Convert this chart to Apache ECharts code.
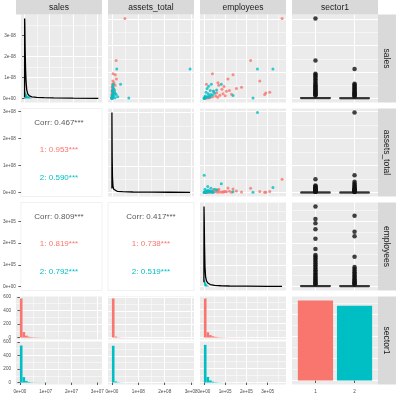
<!DOCTYPE html>
<html>
<head>
<meta charset="utf-8">
<script src="https://cdn.jsdelivr.net/npm/echarts@6/dist/echarts.min.js"></script>
<style>
    html, body { margin: 0; padding: 0; background: #fff; }
    #chart_main { width: 396px; height: 396px; }
</style>
</head>
<body>
<div id="chart_main"></div>
<script>
var variables = ['sales', 'assets_total', 'employees', 'sector1'];
var groupColors = ['#F8766D', '#00BFC4'];

// firms, one row each: [sales, assets_total, employees]
var firmsSector1 = [
    [3.03e7, 4.9e7, 3.68e5], [1.44e7, 1.6e7, 2.2e5], [9.4e6, 4.5e6, 4.0e4], [9.0e6, 1.3e7, 1.37e5],
    [7.4e6, 1.7e7, 1.13e5], [6.6e6, 4.0e6, 2.63e5], [6.0e6, 8.0e6, 6.6e4], [5.4e6, 2.5e6, 1.2e4],
    [4.3e6, 1.5e6, 1.77e5], [3.8e6, 6.0e6, 1.53e5], [2.75e6, 3.0e6, 1.06e5], [2.1e6, 1.2e6, 2.91e5],
    [2.4e6, 3.6e6, 3.1e5], [1.5e6, 1.0e6, 2.86e5], [1.8e6, 2.2e6, 9.0e4], [1.2e6, 1.5e6, 7.5e4],
    [9.0e5, 3.0e6, 5.5e4], [6.0e5, 8.0e5, 4.0e4], [4.0e5, 5.0e5, 2.5e4], [2.5e5, 3.0e5, 1.5e4],
    [1.5e5, 2.0e5, 8.0e3], [8.0e4, 1.0e5, 4.0e3], [3.0e6, 5.0e6, 1.2e5], [2.2e6, 7.0e6, 6.0e4],
    [1.0e6, 4.0e6, 1.0e5], [7.0e5, 2.0e6, 3.0e4], [5.0e5, 1.0e6, 6.5e4], [3.0e5, 6.0e5, 1.2e4],
    [3.5e6, 2.0e6, 8.5e4], [1.6e6, 9.0e5, 1.3e5], [2.6e6, 1.0e7, 4.5e4], [4.5e6, 3.0e6, 9.5e4],
    [5.0e6, 1.2e7, 7.0e4], [2.0e5, 1.5e6, 2.0e4]
];
var firmsSector2 = [
    [1.12e7, 2.96e8, 2.52e5], [1.12e7, 1.84e7, 3.25e5], [5.4e6, 3.26e7, 8.2e4], [2.0e5, 6.4e7, 1.5e3],
    [1.6e5, 1.0e6, 2.31e5], [5.4e6, 5.0e6, 3.5e4], [1.1e6, 3.0e6, 1.37e5], [4.6e6, 3.0e6, 2.2e4],
    [3.8e6, 6.0e6, 1.5e4], [3.0e6, 2.0e6, 3.0e4], [2.4e6, 4.5e6, 1.0e4], [1.8e6, 8.0e6, 2.0e4],
    [1.3e6, 1.2e6, 4.0e4], [9.0e5, 2.5e6, 6.0e3], [6.0e5, 5.0e5, 1.2e4], [4.0e5, 1.5e6, 3.0e3],
    [2.5e5, 3.0e5, 8.0e3], [1.2e5, 1.5e5, 2.0e3], [6.0e4, 5.0e5, 1.0e3], [2.0e6, 1.2e7, 5.0e4],
    [1.0e6, 6.0e6, 2.5e4], [3.2e6, 1.0e7, 6.0e4], [7.0e5, 2.2e7, 1.8e4], [1.5e6, 1.6e7, 3.3e4],
    [2.8e6, 9.0e5, 4.5e4], [5.0e5, 3.5e6, 2.8e4], [3.0e5, 1.2e7, 5.0e3]
];

// correlation text: overall, sector 1, sector 2
var corrSalesAssets = ['0.467***', '0.953***', '0.590***'];
var corrSalesEmployees = ['0.809***', '0.819***', '0.792***'];
var corrAssetsEmployees = ['0.417***', '0.738***', '0.519***'];

// diagonal densities
var salesDensX = [0, 3e4, 8e4, 1.5e5, 2.5e5, 4e5, 6e5, 9e5, 1.3e6, 2e6, 3e6, 5e6, 8e6, 1.2e7, 2e7, 3.03e7];
var salesDensY = [0.05, 3.8, 3.6, 3.0, 2.2, 1.4, 0.8, 0.4, 0.22, 0.12, 0.08, 0.05, 0.04, 0.03, 0.02, 0.01];
var salesDensTealX = [0, 2e5, 6e5, 1.2e6, 2e6, 3e6];
var salesDensTealY = [0.15, 0.35, 0.25, 0.12, 0.04, 0.0];
var assetsDensX = [0, 1e5, 4e5, 1e6, 2e6, 4e6, 7e6, 1.2e7, 2e7, 4e7, 8e7, 1.5e8, 2.2e8, 2.96e8];
var assetsDensY = [0.15, 3.0, 2.4, 1.35, 0.6, 0.24, 0.12, 0.075, 0.045, 0.03, 0.018, 0.012, 0.009, 0.006];
var employeesDensX = [0, 500, 1500, 3000, 5000, 8000, 1.2e4, 2e4, 3e4, 5e4, 8e4, 1.2e5, 2e5, 3e5, 3.68e5];
var employeesDensY = [0.2, 3.7, 3.1, 1.85, 0.9, 0.45, 0.26, 0.15, 0.09, 0.055, 0.035, 0.022, 0.015, 0.008, 0.004];
var employeesDensTealX = [0, 3e3, 8e3, 1.5e4, 2.5e4];
var employeesDensTealY = [0.15, 0.35, 0.18, 0.06, 0.0];

// boxplots by sector: [min, q1, median, q3, max]
var salesBox = [[0, 3e4, 1.2e5, 3.5e5, 8e5], [0, 2e4, 8e4, 2.5e5, 6e5]];
var salesOut1 = [3.03e7, 1.44e7, 9.4e6, 9.0e6, 8.4e6, 7.8e6, 7.2e6, 6.6e6, 6.0e6, 5.5e6, 5.0e6, 4.6e6, 4.2e6, 3.8e6,
    3.4e6, 3.0e6, 2.7e6, 2.4e6, 2.1e6, 1.8e6, 1.5e6, 1.3e6, 1.1e6];
var salesOut2 = [1.12e7, 5.6e6, 5.2e6, 4.8e6, 4.4e6, 4.0e6, 3.6e6, 3.2e6, 2.8e6, 2.5e6, 2.2e6, 1.9e6, 1.6e6, 1.3e6, 1.0e6, 8e5];
var assetsBox = [[0, 1e5, 3e5, 8e5, 1.9e6], [0, 8e4, 2.5e5, 7e5, 1.6e6]];
var assetsOut1 = [4.9e7, 2.6e7, 2.3e7, 2.0e7, 1.8e7, 1.6e7, 1.4e7, 1.2e7, 1.0e7, 8.5e6, 7e6, 6e6, 5e6, 4e6, 3.2e6, 2.5e6];
var assetsOut2 = [2.96e8, 6.4e7, 4.0e7, 3.3e7, 2.8e7, 2.4e7, 2.0e7, 1.7e7, 1.4e7, 1.2e7, 1.0e7, 8e6, 6.5e6, 5e6, 4e6, 3e6, 2.2e6];
var employeesBox = [[0, 500, 1500, 4000, 8500], [0, 400, 1200, 3500, 7500]];
var employeesOut1 = [3.68e5, 3.1e5, 2.91e5, 2.63e5, 2.2e5, 1.73e5, 1.45e5, 1.38e5, 1.3e5, 1.22e5, 1.14e5, 1.06e5, 9.8e4, 9.0e4,
    8.2e4, 7.5e4, 6.8e4, 6.1e4, 5.4e4, 4.8e4, 4.2e4, 3.6e4, 3.1e4, 2.6e4, 2.1e4, 1.7e4, 1.3e4, 1.0e4];
var employeesOut2 = [3.25e5, 2.52e5, 2.31e5, 1.37e5, 9.0e4, 8.2e4, 7.4e4, 6.6e4, 5.9e4, 5.2e4, 4.5e4, 3.9e4, 3.3e4, 2.8e4,
    2.3e4, 1.9e4, 1.5e4, 1.2e4, 9e3];

// histograms (30 bins), per sector
var salesBinWidth = 1.01e6;
var salesHist1 = [578, 82, 28, 12, 7, 4, 3, 2, 1, 1, 0, 1, 0, 0, 1, 0, 0, 0, 0, 0, 0, 0, 0, 0, 0, 0, 0, 0, 0, 1];
var salesHist2 = [548, 80, 24, 9, 4, 2, 1, 1, 0, 1, 1, 0, 0, 0, 0, 0, 0, 0, 0, 0, 0, 0, 0, 0, 0, 0, 0, 0, 0, 0];
var assetsBinWidth = 9.9e6;
var assetsHist1 = [585, 14, 4, 2, 1, 1, 0, 0, 0, 0, 0, 0, 0, 0, 0, 0, 0, 0, 0, 0, 0, 0, 0, 0, 0, 0, 0, 0, 0, 0];
var assetsHist2 = [550, 16, 5, 2, 1, 0, 1, 0, 0, 0, 0, 0, 0, 0, 0, 0, 0, 0, 0, 0, 0, 0, 0, 0, 0, 0, 0, 0, 0, 1];
var employeesBinWidth = 1.23e4;
var employeesHist1 = [560, 75, 35, 18, 10, 6, 4, 3, 2, 1, 1, 1, 1, 0, 1, 0, 1, 1, 0, 1, 0, 1, 0, 1, 0, 0, 0, 0, 0, 1];
var employeesHist2 = [540, 80, 30, 12, 6, 3, 2, 1, 1, 0, 1, 0, 0, 0, 1, 0, 0, 0, 1, 1, 0, 0, 0, 0, 0, 1, 0, 0, 0, 0];

// sector1 counts
var sectorCounts = [721, 674];

// tick values and labels
var salesTicks = [0, 1e7, 2e7, 3e7];
var salesTickLabels = ['0e+00', '1e+07', '2e+07', '3e+07'];
var assetsTicks = [0, 1e8, 2e8, 3e8];
var assetsTickLabels = ['0e+00', '1e+08', '2e+08', '3e+08'];
var employeesTicks = [0, 1e5, 2e5, 3e5];
var employeesTickLabels = ['0e+00', '1e+05', '2e+05', '3e+05'];
var densityTicks = [0, 1, 2, 3];
var densityTickLabels = ['0e+00', '1e-08', '2e-08', '3e-08'];
var countTicks = [0, 200, 400, 600];
var countTickLabels = ['0', '200', '400', '600'];
var sectorTicks = [1, 2];
var sectorTickLabels = ['1', '2'];

// layout
var colX = [16, 108, 200, 292];
var rowY = [14.5, 108.5, 202.5, 296.5];
var PW = 86, PH = 88;
var FONT = '"Liberation Sans", Arial, sans-serif';

function expand(lo, hi) {
    var d = (hi - lo) * 0.05;
    return [lo - d, hi + d];
}
function colMax(idx) {
    return Math.max.apply(null, firmsSector1.concat(firmsSector2).map(function (f) { return f[idx]; }));
}
function arrMax(a) { return Math.max.apply(null, a); }

var salesRange = expand(0, colMax(0));
var assetsRange = expand(0, colMax(1));
var employeesRange = expand(0, colMax(2));
var sectorRange = [0.4, 2.6];
var corrRange = [0, 1];

var grids = [], xAxes = [], yAxes = [], series = [], graphics = [];

function tickFormatter(ticks, labels) {
    return function (v) {
        for (var i = 0; i < ticks.length; i++) {
            if (Math.abs(v - ticks[i]) <= 1e-6 * Math.max(1, Math.abs(ticks[i]))) return labels[i];
        }
        return '';
    };
}

function makeAxis(gi, range, opt, isX) {
    opt = opt || {};
    var ax = {
        type: 'value', gridIndex: gi, min: range[0], max: range[1],
        splitNumber: opt.splitNumber || 4,
        axisLine: {show: false},
        axisTick: {show: !!opt.ticks, length: 2.5, lineStyle: {color: '#333333', width: 0.8}},
        axisLabel: {show: !!opt.ticks, fontSize: 4.6, color: '#4D4D4D', fontFamily: FONT, margin: isX ? 5 : 5},
        splitLine: {show: opt.grid !== false, showMinLine: false, showMaxLine: false,
            lineStyle: {color: '#FFFFFF', width: 1}},
        minorTick: {show: false, splitNumber: 2},
        minorSplitLine: {show: opt.grid !== false && opt.minor !== false, lineStyle: {color: '#FFFFFF', width: 0.5}}
    };
    if (opt.ticks) {
        ax.axisTick.customValues = opt.ticks;
        ax.axisLabel.customValues = opt.ticks;
        ax.axisLabel.formatter = tickFormatter(opt.ticks, opt.labels);
    }
    return ax;
}

function addPanel(x, y, w, h, xRange, yRange, xOpt, yOpt, white) {
    var gi = grids.length;
    grids.push({
        left: x, top: y, width: w, height: h, show: true,
        backgroundColor: white ? '#FFFFFF' : '#EBEBEB',
        borderWidth: white ? 0.8 : 0, borderColor: '#EDEDED'
    });
    xAxes.push(makeAxis(gi, xRange, xOpt, true));
    yAxes.push(makeAxis(gi, yRange, yOpt, false));
    return gi;
}

function pairs(xs, ys) {
    return xs.map(function (x, i) { return [x, ys[i]]; });
}

function addScatter(gi, xi, yi) {
    [firmsSector1, firmsSector2].forEach(function (firms, g) {
        series.push({
            type: 'scatter', xAxisIndex: gi, yAxisIndex: gi, silent: true, symbolSize: 3,
            itemStyle: {color: groupColors[g]},
            data: firms.map(function (f) { return [f[xi], f[yi]]; })
        });
    });
}

function addDensity(gi, xs, ys, tealX, tealY) {
    if (tealX) {
        series.push({
            type: 'line', xAxisIndex: gi, yAxisIndex: gi, silent: true, showSymbol: false,
            lineStyle: {width: 0}, areaStyle: {color: groupColors[1], opacity: 1},
            data: pairs(tealX, tealY)
        });
    }
    series.push({
        type: 'line', xAxisIndex: gi, yAxisIndex: gi, silent: true, showSymbol: false,
        lineStyle: {color: '#000000', width: 1.3}, data: pairs(xs, ys), z: 3
    });
}

function addBox(gi, box, out1, out2) {
    series.push({
        type: 'custom', xAxisIndex: gi, yAxisIndex: gi, silent: true,
        data: box.map(function (b, i) { return [i + 1].concat(b); }),
        renderItem: function (params, api) {
            var x = api.value(0);
            var half = api.size([0.75, 0])[0] / 2;
            var pMin = api.coord([x, api.value(1)]);
            var pQ1 = api.coord([x, api.value(2)]);
            var pMed = api.coord([x, api.value(3)]);
            var pQ3 = api.coord([x, api.value(4)]);
            var pMax = api.coord([x, api.value(5)]);
            var st = {stroke: '#333333', lineWidth: 1.2, fill: null};
            return {type: 'group', children: [
                {type: 'line', shape: {x1: pMax[0], y1: pMax[1], x2: pQ3[0], y2: pQ3[1]}, style: st},
                {type: 'line', shape: {x1: pQ1[0], y1: pQ1[1], x2: pMin[0], y2: pMin[1]}, style: st},
                {type: 'rect', shape: {x: pQ3[0] - half, y: pQ3[1], width: half * 2, height: Math.max(pQ1[1] - pQ3[1], 0.5)},
                    style: {fill: '#FFFFFF', stroke: '#333333', lineWidth: 1.2}},
                {type: 'line', shape: {x1: pMed[0] - half, y1: pMed[1], x2: pMed[0] + half, y2: pMed[1]},
                    style: {stroke: '#333333', lineWidth: 2}}
            ]};
        }
    });
    [out1, out2].forEach(function (out, g) {
        series.push({
            type: 'scatter', xAxisIndex: gi, yAxisIndex: gi, silent: true, symbolSize: 4.5,
            itemStyle: {color: '#111111'},
            data: out.map(function (v) { return [g + 1, v]; })
        });
    });
}

function addHist(gi, counts, bw, color) {
    series.push({
        type: 'custom', xAxisIndex: gi, yAxisIndex: gi, silent: true,
        data: counts.map(function (c, i) { return [i * bw, (i + 1) * bw, c]; }),
        renderItem: function (params, api) {
            var p0 = api.coord([api.value(0), 0]);
            var p1 = api.coord([api.value(1), api.value(2)]);
            return {type: 'rect', shape: {x: p0[0], y: p1[1], width: p1[0] - p0[0], height: p0[1] - p1[1]},
                style: {fill: color}};
        }
    });
}

function addCorr(r, c, vals) {
    var labels = ['Corr: ' + vals[0], '1: ' + vals[1], '2: ' + vals[2]];
    var colors = ['#595959', groupColors[0], groupColors[1]];
    var fy = [0.84, 0.53, 0.21];
    for (var i = 0; i < 3; i++) {
        graphics.push({
            type: 'text', x: colX[c] + PW / 2, y: rowY[r] + PH * (1 - fy[i]),
            style: {text: labels[i], fill: colors[i], font: '8px ' + FONT, align: 'center', verticalAlign: 'middle'}
        });
    }
}

// row 1: sales
var g;
g = addPanel(colX[0], rowY[0], PW, PH, salesRange, expand(0, arrMax(salesDensY)), {},
    {ticks: densityTicks, labels: densityTickLabels});
addDensity(g, salesDensX, salesDensY, salesDensTealX, salesDensTealY);
g = addPanel(colX[1], rowY[0], PW, PH, assetsRange, salesRange, {}, {});
addScatter(g, 1, 0);
g = addPanel(colX[2], rowY[0], PW, PH, employeesRange, salesRange, {}, {});
addScatter(g, 2, 0);
g = addPanel(colX[3], rowY[0], PW, PH, sectorRange, salesRange, {splitNumber: 2, minor: false}, {});
addBox(g, salesBox, salesOut1, salesOut2);

// row 2: assets_total
addPanel(colX[0], rowY[1], PW, PH, corrRange, assetsRange, {grid: false},
    {grid: false, ticks: assetsTicks, labels: assetsTickLabels}, true);
addCorr(1, 0, corrSalesAssets);
g = addPanel(colX[1], rowY[1], PW, PH, assetsRange, expand(0, arrMax(assetsDensY)), {}, {});
addDensity(g, assetsDensX, assetsDensY);
g = addPanel(colX[2], rowY[1], PW, PH, employeesRange, assetsRange, {}, {});
addScatter(g, 2, 1);
g = addPanel(colX[3], rowY[1], PW, PH, sectorRange, assetsRange, {splitNumber: 2, minor: false}, {});
addBox(g, assetsBox, assetsOut1, assetsOut2);

// row 3: employees
addPanel(colX[0], rowY[2], PW, PH, corrRange, employeesRange, {grid: false},
    {grid: false, ticks: employeesTicks, labels: employeesTickLabels}, true);
addCorr(2, 0, corrSalesEmployees);
addPanel(colX[1], rowY[2], PW, PH, corrRange, corrRange, {grid: false}, {grid: false}, true);
addCorr(2, 1, corrAssetsEmployees);
g = addPanel(colX[2], rowY[2], PW, PH, employeesRange, expand(0, arrMax(employeesDensY)), {}, {});
addDensity(g, employeesDensX, employeesDensY, employeesDensTealX, employeesDensTealY);
g = addPanel(colX[3], rowY[2], PW, PH, sectorRange, employeesRange, {splitNumber: 2, minor: false}, {});
addBox(g, employeesBox, employeesOut1, employeesOut2);

// row 4: sector1 histograms, one facet per sector
var FH = (PH - 2) / 2;
var histSets = [
    [salesRange, salesHist1, salesHist2, salesBinWidth, salesTicks, salesTickLabels],
    [assetsRange, assetsHist1, assetsHist2, assetsBinWidth, assetsTicks, assetsTickLabels],
    [employeesRange, employeesHist1, employeesHist2, employeesBinWidth, employeesTicks, employeesTickLabels]
];
histSets.forEach(function (h, c) {
    var yr = expand(0, Math.max(arrMax(h[1]), arrMax(h[2])));
    var yOpt = c === 0 ? {ticks: countTicks, labels: countTickLabels} : {};
    var gTop = addPanel(colX[c], rowY[3], PW, FH, h[0], yr, {}, yOpt);
    addHist(gTop, h[1], h[3], groupColors[0]);
    var gBot = addPanel(colX[c], rowY[3] + FH + 2, PW, FH, h[0], yr, {ticks: h[4], labels: h[5]}, yOpt);
    addHist(gBot, h[2], h[3], groupColors[1]);
});
g = addPanel(colX[3], rowY[3], PW, PH, sectorRange, expand(0, arrMax(sectorCounts)),
    {splitNumber: 2, minor: false, ticks: sectorTicks, labels: sectorTickLabels}, {});
series.push({
    type: 'custom', xAxisIndex: g, yAxisIndex: g, silent: true,
    data: sectorCounts.map(function (n, i) { return [i + 1, n]; }),
    renderItem: function (params, api) {
        var x = api.value(0);
        var p0 = api.coord([x - 0.45, 0]);
        var p1 = api.coord([x + 0.45, api.value(1)]);
        return {type: 'rect', shape: {x: p0[0], y: p1[1], width: p1[0] - p0[0], height: p0[1] - p1[1]},
            style: {fill: groupColors[params.dataIndex]}};
    }
});

// strips
variables.forEach(function (name, i) {
    graphics.push({type: 'rect', shape: {x: colX[i], y: 0, width: PW, height: rowY[0]}, style: {fill: '#D9D9D9'}});
    graphics.push({type: 'text', x: colX[i] + PW / 2, y: rowY[0] / 2 + 0.5,
        style: {text: name, fill: '#1A1A1A', font: '8.5px ' + FONT, align: 'center', verticalAlign: 'middle'}});
    graphics.push({type: 'rect', shape: {x: colX[3] + PW, y: rowY[i], width: 18, height: PH}, style: {fill: '#D9D9D9'}});
    graphics.push({type: 'text', x: colX[3] + PW + 8, y: rowY[i] + PH / 2, rotation: -Math.PI / 2,
        style: {text: name, fill: '#1A1A1A', font: '8.5px ' + FONT, align: 'center', verticalAlign: 'middle'}});
});

var myChart = echarts.init(document.getElementById('chart_main'), null, {renderer: 'canvas'});
myChart.setOption({
    animation: false,
    backgroundColor: '#FFFFFF',
    grid: grids,
    xAxis: xAxes,
    yAxis: yAxes,
    series: series,
    graphic: graphics
});
</script>
</body>
</html>
